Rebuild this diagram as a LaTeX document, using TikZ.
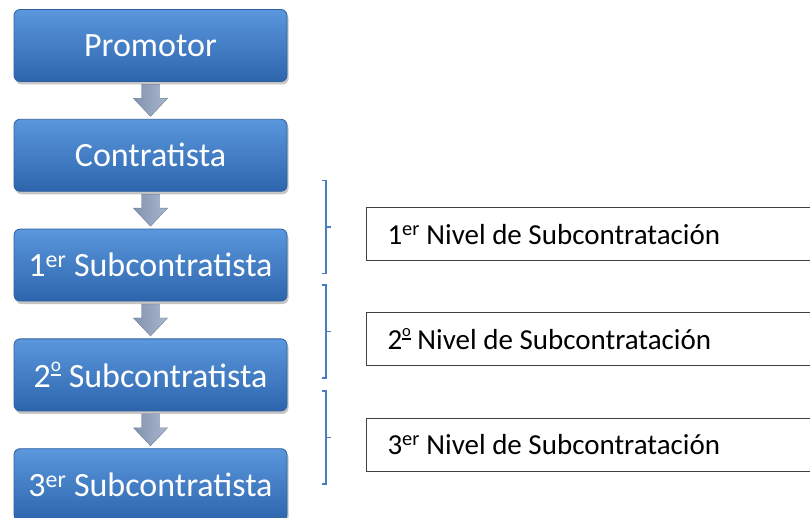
\documentclass[tikz,border=0pt]{standalone}
\usepackage{fontspec}
\setmainfont{Carlito}
\usepackage{graphicx}
\usepackage{tikz}
\usetikzlibrary{positioning,shadows}
\definecolor{boxtop}{HTML}{5A97DD}
\definecolor{boxmid}{HTML}{407ECA}
\definecolor{boxbot}{HTML}{2D65AD}
\definecolor{boxline}{HTML}{30609F}
\definecolor{arrl}{HTML}{8293B0}
\definecolor{arrm}{HTML}{E4EAF3}
\definecolor{arrr}{HTML}{A9B7CD}
\definecolor{brace}{HTML}{4A7CC0}
% ordinal masculino con subrayado
\newcommand\ordm{\raisebox{.32em}{\scalebox{.57}{\vbox{\hbox{o}\kern.1em\hrule height.11em}}}}

\begin{document}
\begin{tikzpicture}[x=1pt,y=1pt,
  stage/.style={rectangle,rounded corners=6pt,minimum width=273pt,minimum height=72pt,
    top color=boxtop,middle color=boxmid,bottom color=boxbot,draw=boxline,line width=.8pt,
    text=white,font=\fontsize{34}{40}\selectfont,
    drop shadow={shadow xshift=1.5pt,shadow yshift=-3pt,opacity=.45}},
  flecha/.pic={\shade[left color=arrl,middle color=arrm,right color=arrr,draw=arrl!85!black,line width=.4pt]
    (-9,16) -- (9,16) -- (9,2) -- (17,2) -- (0,-16) -- (-17,2) -- (-9,2) -- cycle;},
  nivel/.style={rectangle,anchor=west,draw=black!75,line width=1pt,minimum height=53pt,
    text width=406pt,inner xsep=21pt,align=flush left,font=\fontsize{29}{34}\selectfont},
  llave/.style={draw=brace,line width=1.4pt},
  node distance=37pt]
\clip (0,0) rectangle (810,518);
% cadena de contratacion
\node[stage] (prom) at (150.5,472.5) {Promotor};
\node[stage,below=of prom] (cont) {Contratista};
\node[stage,below=of cont] (sub1) {1\textsuperscript{er} Subcontratista};
\node[stage,below=of sub1] (sub2) {2\ordm{} Subcontratista};
\node[stage,below=of sub2] (sub3) {3\textsuperscript{er} Subcontratista};
\foreach \a/\b in {prom/cont,cont/sub1,sub1/sub2,sub2/sub3}
  \path (\a) -- (\b) pic[midway] {flecha};
% niveles
\foreach \n/\y/\t in {lvl1/283.5/1\textsuperscript{er},lvl2/179/2\ordm,lvl3/73/3\textsuperscript{er}}
{
  \node[nivel] (\n) at (366,\y) {\t\ Nivel de Subcontratación};
  \draw[llave] ([shift={(-44,54)}]\n.west) -- ++(4,0) -- ++(0,-93) -- ++(-4,0) ++(4,46.5) -- ++(5,0);
}
\end{tikzpicture}
\end{document}
